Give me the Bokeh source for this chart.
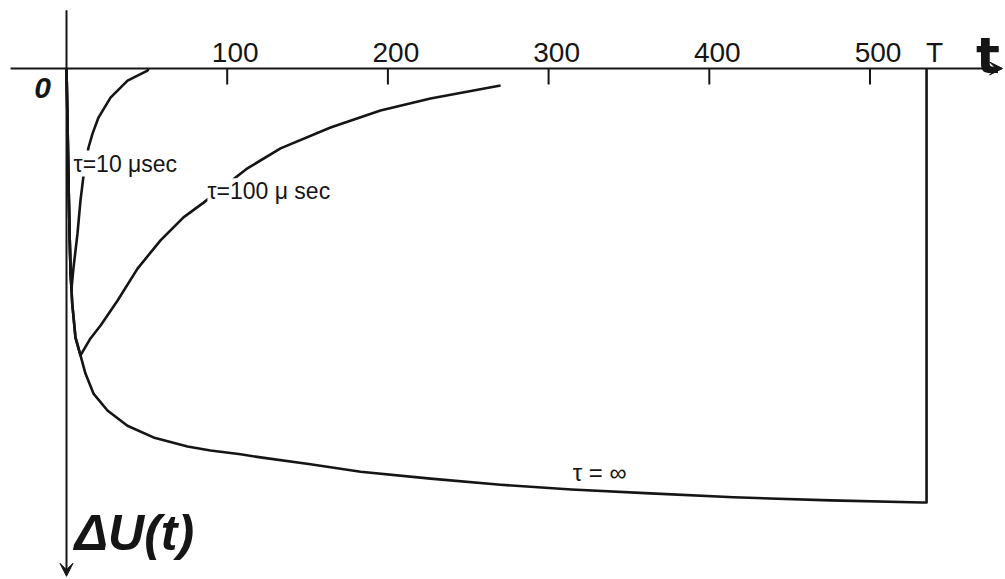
from bokeh.plotting import figure
from bokeh.models import Range1d, Arrow, VeeHead, Label
from bokeh.core.properties import value
from bokeh.embed import file_html
from bokeh.resources import INLINE

# ---- data (t in microseconds, dU in arbitrary units, positive downward) ----
t_inf = [0, 0.62, 1.24, 1.87, 2.49, 3.55, 5.6, 8.71, 11.8, 16.8, 25.5, 37.9, 54.1,
         75.3, 89.6, 108.3, 120.7, 151.8, 183.0, 226.5, 270.1, 314.2, 363.4, 415.1,
         475.4, 532.7, 535.2, 535.2]
u_inf = [0, 0.120, 0.258, 0.373, 0.465, 0.541, 0.620, 0.661, 0.703, 0.749, 0.788,
         0.823, 0.850, 0.871, 0.880, 0.889, 0.896, 0.912, 0.929, 0.945, 0.959, 0.970,
         0.979, 0.988, 0.995, 1.0, 1.0, 0]

t_tau10 = [0, 0.62, 1.24, 1.87, 2.49, 3.11, 4.36, 6.85, 8.71, 10.6, 13.7, 16.2,
           19.9, 27.4, 38.0, 50.4, 51.0]
u_tau10 = [0, 0.120, 0.258, 0.373, 0.465, 0.507, 0.459, 0.380, 0.304, 0.247, 0.182,
           0.150, 0.113, 0.067, 0.028, 0.005, 0]

t_tau100 = [0, 0.62, 1.24, 1.87, 2.49, 3.55, 5.6, 8.71, 14.9, 21.2, 31.7, 44.2,
            58.5, 72.8, 85.3, 112.6, 133.2, 164.3, 195.4, 226.5, 270.1]
u_tau100 = [0, 0.120, 0.258, 0.373, 0.465, 0.541, 0.620, 0.661, 0.622, 0.592, 0.535,
            0.461, 0.396, 0.343, 0.309, 0.230, 0.184, 0.136, 0.097, 0.069, 0.039]

tick_values = [100, 200, 300, 400, 500]
tick_labels = ["100", "200", "300", "400", "500"]
T_value = 535.2
T_label = "T"

INK = "#151515"

p = figure(width=1005, height=579, output_backend="svg", toolbar_location=None,
           x_range=Range1d(-41.07, 584.32), y_range=Range1d(1.1774, -0.1567),
           x_axis_location=None, y_axis_location=None, min_border=0,
           outline_line_color=None, background_fill_color="white",
           border_fill_color="white")
p.grid.visible = False

# axes (drawn inside the frame, crossing at the origin)
p.add_layout(Arrow(end=VeeHead(size=13, fill_color=INK, line_color=INK),
                   x_start=-34.8, y_start=0, x_end=582.5, y_end=0,
                   line_width=2, line_color=INK))
p.add_layout(Arrow(end=VeeHead(size=13, fill_color=INK, line_color=INK),
                   x_start=0, y_start=-0.134, x_end=0, y_end=1.170,
                   line_width=2, line_color=INK))

# ticks and tick labels
p.segment(x0=tick_values, y0=[0] * len(tick_values), x1=tick_values,
          y1=[0.037] * len(tick_values), line_width=2, line_color=INK)
p.text(x=tick_values + [T_value], y=[0] * (len(tick_values) + 1),
       text=tick_labels + [T_label], x_offset=8, y_offset=-16,
       text_align="center", text_baseline="middle",
       text_font=value("Liberation Sans"), text_font_size="28px", text_color=INK)

# curves
p.line(t_inf, u_inf, line_width=2.6, line_color=INK, line_join="round")
p.line(t_tau10, u_tau10, line_width=2.6, line_color=INK, line_join="round")
p.line(t_tau100, u_tau100, line_width=2.6, line_color=INK, line_join="round")

# curve labels (white background breaks the lines as in the drawing)
p.add_layout(Label(x=4.4, y=0.219, text="τ=10 μsec", text_align="left",
                   text_baseline="middle", text_font="Liberation Sans",
                   text_font_size="23px", text_color=INK,
                   background_fill_color="white"))
p.add_layout(Label(x=87.7, y=0.283, text="τ=100 μ sec", text_align="left",
                   text_baseline="middle", text_font="Liberation Sans",
                   text_font_size="23px", text_color=INK,
                   background_fill_color="white"))
p.add_layout(Label(x=315, y=0.931, text="τ = ∞", text_align="left",
                   text_baseline="middle", text_font="Liberation Sans",
                   text_font_size="24px", text_color=INK))

# axis names
p.add_layout(Label(x=566, y=-0.028, text="t", text_align="left",
                   text_baseline="middle", text_font="DejaVu Sans",
                   text_font_style="bold", text_font_size="50px", text_color=INK))
p.add_layout(Label(x=-14.9, y=0.044, text="0", text_align="center",
                   text_baseline="middle", text_font="Liberation Sans",
                   text_font_style="bold italic", text_font_size="30px",
                   text_color=INK))
p.add_layout(Label(x=5.0, y=1.071, text="ΔU(t)", text_align="left",
                   text_baseline="middle", text_font="Liberation Sans",
                   text_font_style="bold italic", text_font_size="50px",
                   text_color=INK))

open("out.html", "w").write(file_html(p, INLINE))
